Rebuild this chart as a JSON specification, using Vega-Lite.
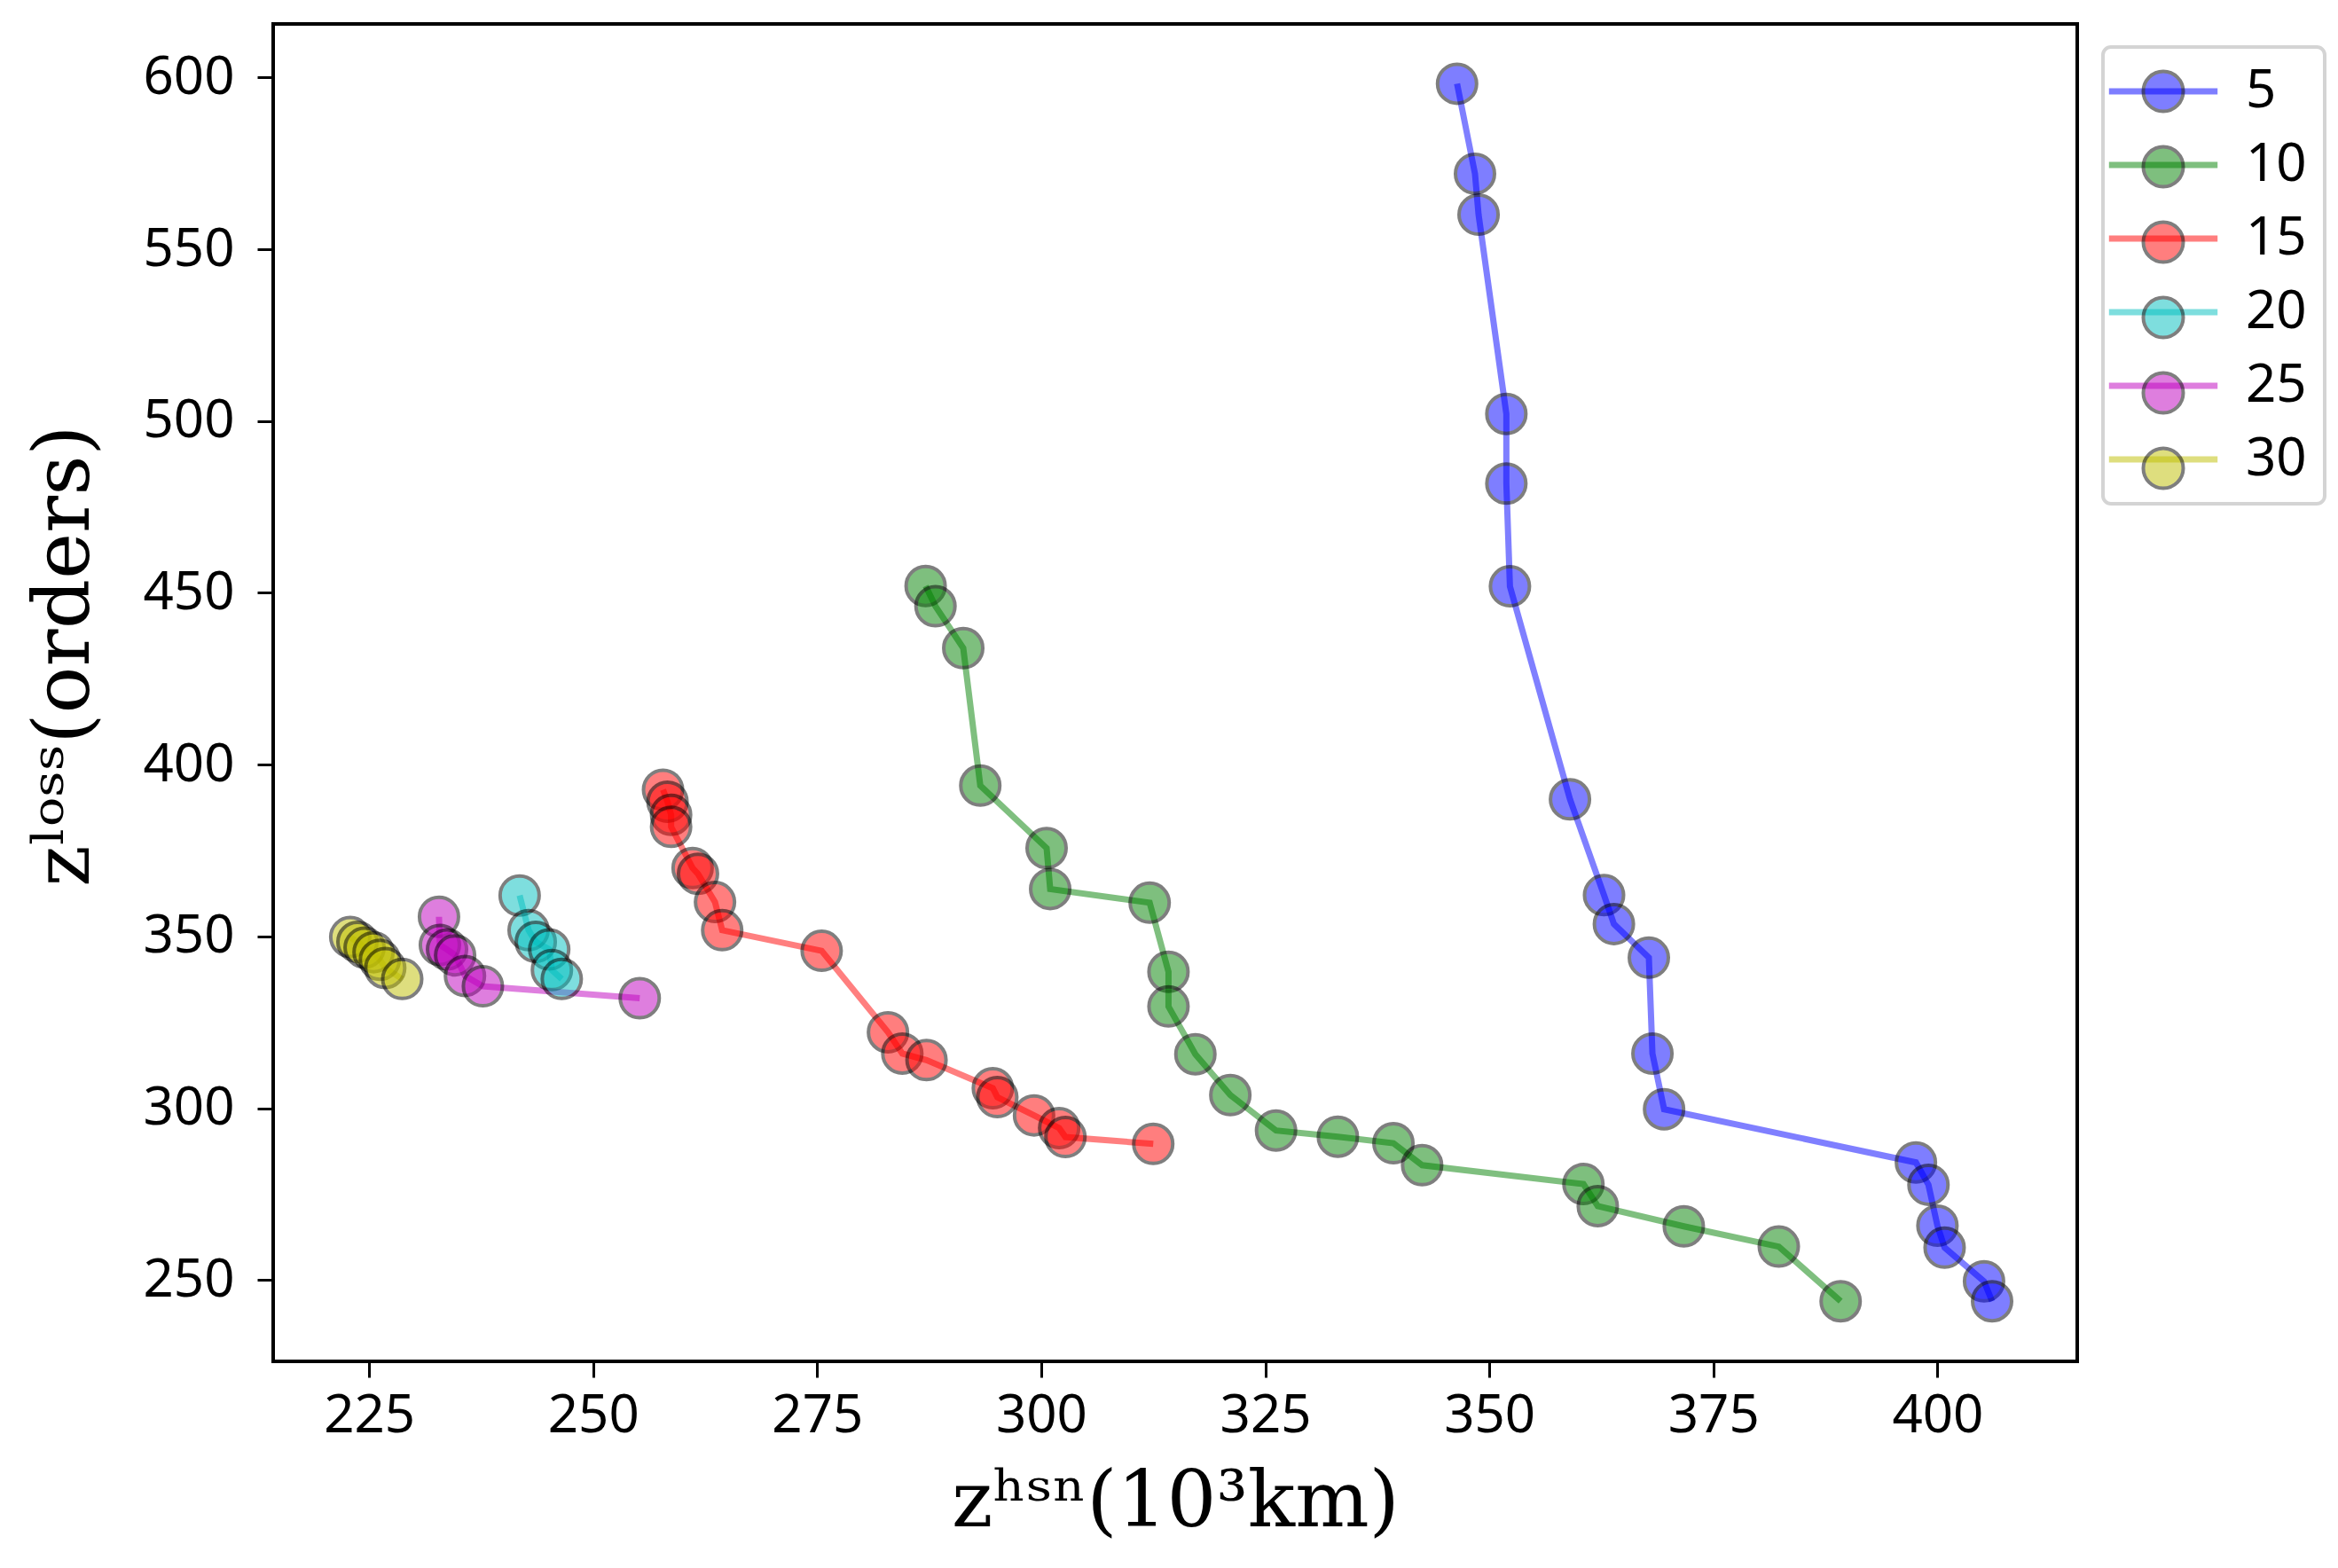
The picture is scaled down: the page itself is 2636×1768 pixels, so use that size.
{
  "$schema": "https://vega.github.io/schema/vega-lite/v6.json",
  "width": 2034,
  "height": 1508,
  "autosize": {"type": "none"},
  "padding": {"left": 308, "top": 27, "right": 294, "bottom": 233},
  "background": "white",
  "data": {
    "values": [
      {"k": 5, "x": 346.4, "y": 598.2},
      {"k": 5, "x": 348.4, "y": 572.0},
      {"k": 5, "x": 348.8, "y": 560.1},
      {"k": 5, "x": 351.9, "y": 502.1},
      {"k": 5, "x": 351.9, "y": 481.8},
      {"k": 5, "x": 352.3, "y": 451.9},
      {"k": 5, "x": 359.0, "y": 389.9},
      {"k": 5, "x": 362.8, "y": 362.0},
      {"k": 5, "x": 363.9, "y": 353.6},
      {"k": 5, "x": 367.8, "y": 343.8},
      {"k": 5, "x": 368.2, "y": 315.9},
      {"k": 5, "x": 369.5, "y": 299.7},
      {"k": 5, "x": 397.6, "y": 284.2},
      {"k": 5, "x": 399.0, "y": 277.7},
      {"k": 5, "x": 400.0, "y": 265.8},
      {"k": 5, "x": 400.8, "y": 259.4},
      {"k": 5, "x": 405.2, "y": 249.6},
      {"k": 5, "x": 406.1, "y": 243.8},
      {"k": 10, "x": 287.1, "y": 452.0},
      {"k": 10, "x": 288.2, "y": 446.1},
      {"k": 10, "x": 291.3, "y": 433.9},
      {"k": 10, "x": 293.2, "y": 393.9},
      {"k": 10, "x": 300.6, "y": 375.7},
      {"k": 10, "x": 301.0, "y": 363.8},
      {"k": 10, "x": 312.1, "y": 359.8},
      {"k": 10, "x": 314.2, "y": 339.7},
      {"k": 10, "x": 314.2, "y": 329.6},
      {"k": 10, "x": 317.2, "y": 315.7},
      {"k": 10, "x": 321.1, "y": 303.8},
      {"k": 10, "x": 326.2, "y": 293.5},
      {"k": 10, "x": 333.1, "y": 291.7},
      {"k": 10, "x": 339.3, "y": 289.8},
      {"k": 10, "x": 342.5, "y": 283.4},
      {"k": 10, "x": 360.5, "y": 277.9},
      {"k": 10, "x": 362.1, "y": 271.5},
      {"k": 10, "x": 371.7, "y": 265.6},
      {"k": 10, "x": 382.3, "y": 259.7},
      {"k": 10, "x": 389.2, "y": 243.8},
      {"k": 15, "x": 257.8, "y": 392.7},
      {"k": 15, "x": 258.3, "y": 389.2},
      {"k": 15, "x": 258.7, "y": 385.4},
      {"k": 15, "x": 258.7, "y": 381.9},
      {"k": 15, "x": 261.1, "y": 369.9},
      {"k": 15, "x": 261.7, "y": 368.2},
      {"k": 15, "x": 263.6, "y": 360.0},
      {"k": 15, "x": 264.4, "y": 351.8},
      {"k": 15, "x": 275.5, "y": 345.8},
      {"k": 15, "x": 282.9, "y": 322.1},
      {"k": 15, "x": 284.5, "y": 315.9},
      {"k": 15, "x": 287.2, "y": 314.0},
      {"k": 15, "x": 294.6, "y": 305.8},
      {"k": 15, "x": 295.1, "y": 303.2},
      {"k": 15, "x": 299.2, "y": 297.9},
      {"k": 15, "x": 302.0, "y": 294.2},
      {"k": 15, "x": 302.7, "y": 291.6},
      {"k": 15, "x": 312.5, "y": 289.6},
      {"k": 20, "x": 241.8, "y": 361.9},
      {"k": 20, "x": 242.8, "y": 351.8},
      {"k": 20, "x": 243.6, "y": 348.4},
      {"k": 20, "x": 245.1, "y": 346.2},
      {"k": 20, "x": 245.4, "y": 340.2},
      {"k": 20, "x": 246.5, "y": 337.6},
      {"k": 25, "x": 232.8, "y": 355.7},
      {"k": 25, "x": 232.9, "y": 347.5},
      {"k": 25, "x": 233.7, "y": 346.2},
      {"k": 25, "x": 234.6, "y": 344.5},
      {"k": 25, "x": 235.7, "y": 338.5},
      {"k": 25, "x": 237.7, "y": 335.5},
      {"k": 25, "x": 255.2, "y": 332.0},
      {"k": 30, "x": 222.9, "y": 349.8},
      {"k": 30, "x": 223.7, "y": 348.4},
      {"k": 30, "x": 224.5, "y": 346.7},
      {"k": 30, "x": 225.5, "y": 345.4},
      {"k": 30, "x": 226.2, "y": 343.2},
      {"k": 30, "x": 226.8, "y": 340.8},
      {"k": 30, "x": 228.7, "y": 337.6}
    ]
  },
  "encoding": {
    "x": {
      "field": "x",
      "type": "quantitative",
      "scale": {"domain": [214.3, 415.6], "nice": false, "zero": false},
      "axis": {"values": [225, 250, 275, 300, 325, 350, 375, 400], "title": "zʰˢⁿ(10³km)", "titlePadding": 24, "labelPadding": 14}
    },
    "y": {
      "field": "y",
      "type": "quantitative",
      "scale": {"domain": [226.3, 615.6], "nice": false, "zero": false},
      "axis": {"values": [250, 300, 350, 400, 450, 500, 550, 600], "title": "zˡᵒˢˢ(orders)", "titlePadding": 44, "labelPadding": 26, "titleY": 712}
    }
  },
  "layer": [
    {
      "mark": {"type": "line", "strokeWidth": 7, "opacity": 0.5},
      "encoding": {
        "stroke": {
          "field": "k",
          "type": "ordinal",
          "scale": {"range": ["#0000ff", "#008000", "#ff0000", "#00bfbf", "#bf00bf", "#bfbf00"]},
          "legend": {
            "orient": "none",
            "legendX": 2063,
            "legendY": 26,
            "direction": "vertical",
            "title": null,
            "symbolType": "M-2.72,0H2.72",
            "symbolSize": 2025,
            "symbolStrokeWidth": 7,
            "symbolOpacity": 0.5,
            "symbolOffset": 18,
            "labelOffset": 63,
            "labelExpr": "datum.value == 5 ? '\u2007' + datum.label : datum.label",
            "labelFont": "Noto Sans",
            "labelFontSize": 60,
            "labelColor": "black",
            "rowPadding": 23,
            "padding": 20,
            "strokeColor": "#d4d4d4",
            "cornerRadius": 9,
            "encode": {"legend": {"update": {"strokeWidth": {"value": 4}}}}
          }
        },
        "order": {"field": "y", "sort": "descending"}
      }
    },
    {
      "mark": {"type": "circle", "size": 1936, "opacity": 0.5, "stroke": "black", "strokeWidth": 4},
      "encoding": {
        "fill": {
          "field": "k",
          "type": "ordinal",
          "scale": {"domain": [5, 10, 15, 20, 25, 30], "range": ["#0000ff", "#008000", "#ff0000", "#00bfbf", "#bf00bf", "#bfbf00"]},
          "legend": {
            "orient": "none",
            "legendX": 2063,
            "legendY": 26,
            "direction": "vertical",
            "title": null,
            "symbolType": "circle",
            "symbolSize": 2025,
            "symbolStrokeColor": "black",
            "symbolStrokeWidth": 4,
            "symbolOpacity": 0.5,
            "symbolOffset": 18,
            "labelOffset": 63,
            "labelExpr": "'\u2007'",
            "labelFont": "Noto Sans",
            "labelFontSize": 60,
            "labelOpacity": 0,
            "rowPadding": 23,
            "padding": 20
          }
        }
      }
    }
  ],
  "config": {
    "view": {"stroke": "black", "strokeWidth": 4},
    "axis": {
      "grid": false,
      "domain": false,
      "labelFont": "Noto Sans",
      "labelFontSize": 60,
      "labelColor": "black",
      "tickColor": "black",
      "tickWidth": 3,
      "tickSize": 18,
      "titleFont": "DejaVu Serif",
      "titleFontSize": 88,
      "titleFontWeight": "normal",
      "titleColor": "black"
    }
  }
}
